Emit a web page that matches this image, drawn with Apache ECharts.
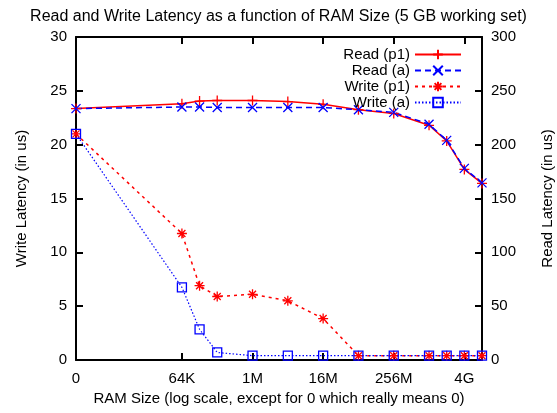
<!DOCTYPE html>
<html><head><meta charset="utf-8">
<script src="https://cdn.jsdelivr.net/npm/echarts@6/dist/echarts.min.js"></script>
<style>html,body{margin:0;padding:0;background:#fff}#c{width:557px;height:413px}</style>
</head><body><div id="c"></div>
<script>
// RAM sizes, positioned on a log2 scale (the "0" entry is drawn at the left edge, log2 = 10)
const ramSizes = ['0','64K','128K','256K','1M','4M','16M','64M','256M','1G','2G','4G','8G'];
const ramLog2  = [10, 16, 17, 18, 20, 22, 24, 26, 28, 30, 31, 32, 33];
const tickPos    = [10, 16, 20, 24, 28, 32];
const tickLabels = ['0','64K','1M','16M','256M','4G'];

const readP1  = [233.5, 238, 240.5, 241, 241, 240, 237.5, 232.5, 229, 218, 203.5, 177, 164];
const readA   = [233.5, 235, 235, 234.5, 234.5, 234.5, 234.5, 232.5, 230, 219, 204, 178, 164.5];
const writeP1 = [21.0, 11.75, 6.9, 5.9, 6.1, 5.5, 3.85, 0.4, 0.4, 0.4, 0.4, 0.4, 0.4];
const writeA  = [21.0, 6.75, 2.85, 0.7, 0.4, 0.4, 0.4, 0.4, 0.4, 0.4, 0.4, 0.4, 0.4];

const pair = arr => arr.map((v, i) => [ramLog2[i], v]);
const FONT = 'Liberation Sans';
const plus = 'path://M5,0L5,10M0,5L10,5';
const cross = 'path://M0,0L10,10M10,0L0,10';
const star = 'path://M5,0L5,10M0,5L10,5M1.5,1.5L8.5,8.5M8.5,1.5L1.5,8.5';

const chart = echarts.init(document.getElementById('c'), null, {renderer:'canvas'});
const lbl = {fontFamily: FONT, fontSize: 15, color: '#000'};
chart.setOption({
  animation: false,
  title: {text: 'Read and Write Latency as a function of RAM Size (5 GB working set)', left: 'center', top: 4,
    textStyle: {fontFamily: FONT, fontSize: 16, fontWeight: 'normal', color: '#000'}},
  grid: {left: 76, right: 75, top: 37, bottom: 53, containLabel: false, outerBoundsMode: 'none'},
  legend: {right: 95, top: 47, orient: 'vertical', align: 'right', itemWidth: 46, itemHeight: 12, itemGap: 1, padding: 0,
    textStyle: {fontFamily: FONT, fontSize: 15, lineHeight: 15, color: '#000'}},
  xAxis: [{
    type: 'value', min: 10, max: 33, position: 'bottom',
    name: 'RAM Size (log scale, except for 0 which really means 0)', nameLocation: 'middle', nameGap: 29,
    nameTextStyle: lbl,
    axisLine: {show: true, onZero: false, lineStyle: {color: '#000', width: 2}},
    axisTick: {show: true, inside: true, length: 7, customValues: tickPos, lineStyle: {color: '#000', width: 2}},
    axisLabel: Object.assign({customValues: tickPos, margin: 11,
      formatter: v => tickLabels[tickPos.indexOf(v)] ?? ''}, lbl),
    splitLine: {show: false}
  }, {
    type: 'value', min: 10, max: 33, position: 'top',
    axisLine: {show: true, onZero: false, lineStyle: {color: '#000', width: 2}},
    axisTick: {show: true, inside: true, length: 7, customValues: tickPos, lineStyle: {color: '#000', width: 2}},
    axisLabel: {show: false}, splitLine: {show: false}
  }],
  yAxis: [{
    type: 'value', min: 0, max: 30, interval: 5, position: 'left',
    name: 'Write Latency (in us)', nameLocation: 'middle', nameGap: 47, nameRotate: 90, nameTextStyle: lbl,
    axisLine: {show: true, lineStyle: {color: '#000', width: 2}},
    axisTick: {show: true, inside: true, length: 7, lineStyle: {color: '#000', width: 2}},
    axisLabel: Object.assign({margin: 9}, lbl), splitLine: {show: false}
  }, {
    type: 'value', min: 0, max: 300, interval: 50, position: 'right',
    name: 'Read Latency (in us)', nameLocation: 'middle', nameGap: 58, nameRotate: 90, nameTextStyle: lbl,
    axisLine: {show: true, lineStyle: {color: '#000', width: 2}},
    axisTick: {show: true, inside: true, length: 7, lineStyle: {color: '#000', width: 2}},
    axisLabel: Object.assign({margin: 9}, lbl), splitLine: {show: false}
  }],
  series: [
    {name: 'Read (p1)', type: 'line', yAxisIndex: 1, data: pair(readP1), symbol: plus, symbolSize: 10,
      lineStyle: {color: '#ff0000', width: 1.5, type: 'solid'},
      itemStyle: {color: '#ff0000', borderColor: '#ff0000', borderWidth: 1.3}},
    {name: 'Read (a)', type: 'line', yAxisIndex: 1, data: pair(readA), symbol: cross, symbolSize: 9,
      lineStyle: {color: '#0000ff', width: 1.5, type: [6, 4]},
      itemStyle: {color: '#0000ff', borderColor: '#0000ff', borderWidth: 1.3}},
    {name: 'Write (p1)', type: 'line', yAxisIndex: 0, data: pair(writeP1), symbol: star, symbolSize: 10,
      lineStyle: {color: '#ff0000', width: 1.5, type: [3, 4]},
      itemStyle: {color: '#ff0000', borderColor: '#ff0000', borderWidth: 1.3}},
    {name: 'Write (a)', type: 'line', yAxisIndex: 0, data: pair(writeA), symbol: 'rect', symbolSize: 9,
      lineStyle: {color: '#0000ff', width: 1.2, type: [1.5, 2]},
      itemStyle: {color: 'rgba(0,0,0,0)', borderColor: '#0000ff', borderWidth: 1.3}}
  ]
});
</script></body></html>
